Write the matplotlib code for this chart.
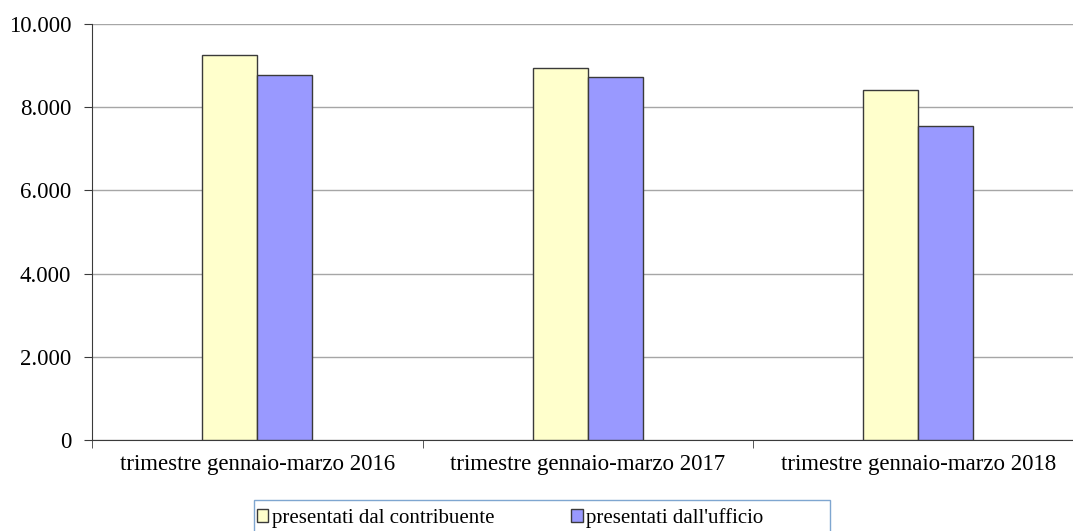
import matplotlib
matplotlib.use("Agg")
import matplotlib.pyplot as plt
from matplotlib.patches import Patch, Rectangle
import numpy as np

categories = ["trimestre gennaio-marzo 2016", "trimestre gennaio-marzo 2017", "trimestre gennaio-marzo 2018"]
contribuente = [9255, 8950, 8415]
ufficio = [8780, 8720, 7555]
series_labels = ["presentati dal contribuente", "presentati dall'ufficio"]
yticks = [0, 2000, 4000, 6000, 8000, 10000]
ytick_labels = ["0", "2.000", "4.000", "6.000", "8.000", "10.000"]

plt.rcParams['font.family'] = ['Liberation Serif', 'DejaVu Serif']

W, H = 1073, 531
fig = plt.figure(figsize=(W/100, H/100), dpi=100)
ax = fig.add_axes([92/W, 1-440/H, (1073-92)/W, (440-24)/H])

x = np.arange(len(categories))
bw = 0.166
c1 = "#FFFFCC"
c2 = "#9999FF"
ec = "#3A3A3A"
ax.bar(x - bw/2, contribuente, bw, color=c1, edgecolor=ec, linewidth=1.0, zorder=3)
ax.bar(x + bw/2, ufficio, bw, color=c2, edgecolor=ec, linewidth=1.0, zorder=3)

ax.set_xlim(-0.495, 2.468)
ax.set_ylim(0, 10000)
ax.set_yticks(yticks)
ax.set_yticklabels(ytick_labels, fontsize=16.5)
ax.yaxis.grid(True, color="#A6A6A6", linewidth=1.0, zorder=0)
ax.set_axisbelow(True)

ax.set_xticks(x)
ax.set_xticklabels(categories, fontsize=16.5)
ax.tick_params(axis='x', length=0, pad=10)
ax.set_xticks([-0.5, 0.5, 1.5], minor=True)
ax.tick_params(axis='x', which='minor', length=6, direction='out', color=ec)
ax.tick_params(axis='y', length=6, direction='out', color=ec, pad=9)

for s in ['top', 'right']:
    ax.spines[s].set_visible(False)
for s in ['left', 'bottom']:
    ax.spines[s].set_color(ec)

# legend frame
fig.patches.append(Rectangle((254/W, -0.01), (830-254)/W, (531-500)/H + 0.01,
                             transform=fig.transFigure, facecolor='white',
                             edgecolor='#7FA6D0', linewidth=1.0))

handles = [Patch(facecolor=c1, edgecolor=ec, label=series_labels[0]),
           Patch(facecolor=c2, edgecolor=ec, label=series_labels[1])]
leg = fig.legend(handles=handles, loc='center left', bbox_to_anchor=(257/W, 1-518/H),
                 ncol=2, fontsize=15, frameon=False,
                 handlelength=0.55, handleheight=0.55, handletextpad=0.15, borderaxespad=0,
                 borderpad=0, columnspacing=3.7)

fig.savefig("out.png", dpi=100)
